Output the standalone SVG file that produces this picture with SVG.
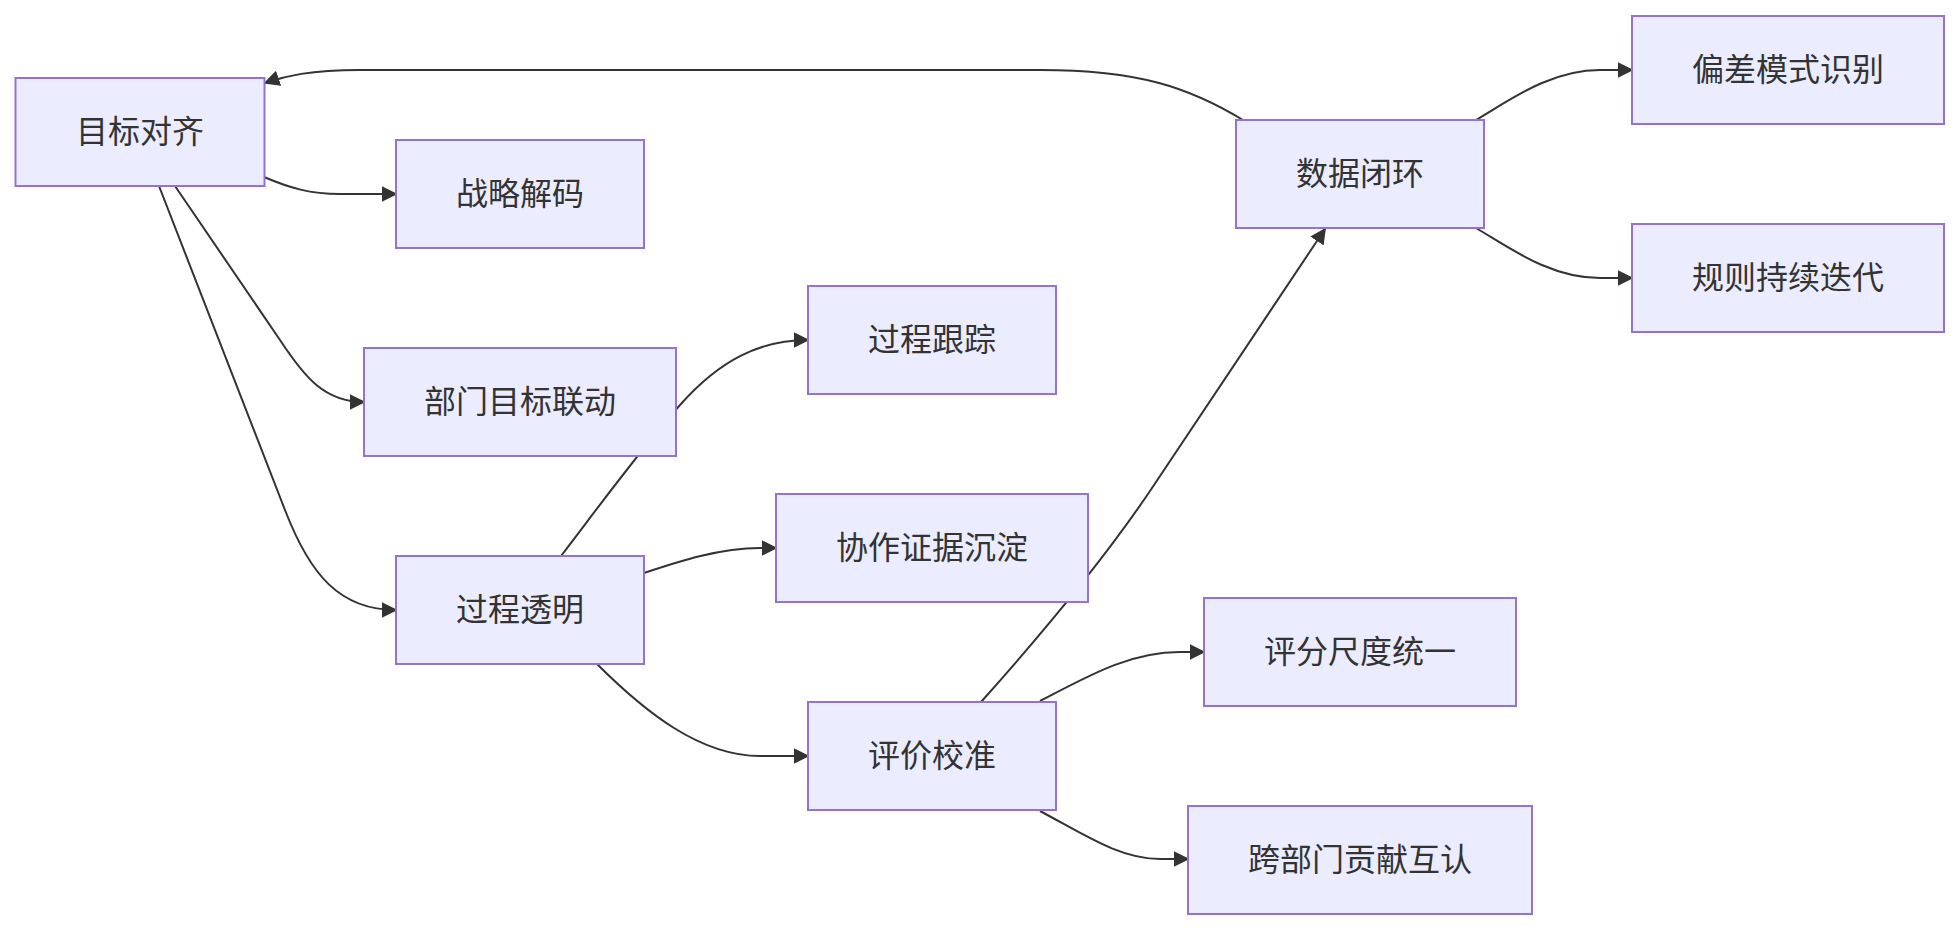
<svg xmlns="http://www.w3.org/2000/svg" width="1960" height="930" viewBox="0 0 1960 930">
<style>
.node rect{fill:#ECECFF;stroke:#9370DB;stroke-width:2}
.node text{font-family:"Noto Sans CJK SC","Noto Sans",sans-serif;font-size:32px;fill:#333333;text-anchor:middle}
.edge{fill:none;stroke:#333333;stroke-width:2}
</style>
<defs>
<marker id="arrow" viewBox="0 0 10 10" refX="9" refY="5" markerUnits="userSpaceOnUse" markerWidth="16" markerHeight="16" orient="auto">
<path d="M0,0 L10,5 L0,10 z" fill="#333333"/>
</marker>
</defs>
<rect width="1960" height="930" fill="#ffffff"/>
<g id="connectors">
<path class="edge" marker-end="url(#arrow)" d="M264,177 C290,188 310,194 340,194 L396,194"/>
<path class="edge" marker-end="url(#arrow)" d="M175,186 L280,340 C305,378 325,402 364,402"/>
<path class="edge" marker-end="url(#arrow)" d="M159,186 L285,510 C310,575 340,610 396,610"/>
<path class="edge" marker-end="url(#arrow)" d="M561,556 C600,505 640,450 680,405 C720,360 760,340 808,340"/>
<path class="edge" marker-end="url(#arrow)" d="M644,573 C680,561 720,548 760,548 L776,548"/>
<path class="edge" marker-end="url(#arrow)" d="M597,664 C645,712 700,756 760,756 L808,756"/>
<path class="edge" marker-end="url(#arrow)" d="M1040,701 C1090,675 1130,652 1180,652 L1204,652"/>
<path class="edge" marker-end="url(#arrow)" d="M1040,811 C1085,835 1120,859 1160,859 L1188,859"/>
<path class="edge" marker-end="url(#arrow)" d="M981,702 C1040,636 1100,565 1150,491 L1325,229"/>
<path class="edge" marker-end="url(#arrow)" d="M1476,120 C1510,100 1550,70 1600,70 L1632,70"/>
<path class="edge" marker-end="url(#arrow)" d="M1476,228 C1510,248 1550,278 1600,278 L1632,278"/>
<path class="edge" marker-end="url(#arrow)" d="M1243,120 C1190,88 1140,70 1040,70 L360,70 C310,70 285,76 265,83"/>
</g>
<g id="n1" class="node"><rect x="15.5" y="78" width="249" height="108"/><text x="140" y="143">目标对齐</text></g>
<g id="n2" class="node"><rect x="396" y="140" width="248" height="108"/><text x="520" y="205">战略解码</text></g>
<g id="n3" class="node"><rect x="364" y="348" width="312" height="108"/><text x="520" y="413">部门目标联动</text></g>
<g id="n4" class="node"><rect x="808" y="286" width="248" height="108"/><text x="932" y="351">过程跟踪</text></g>
<g id="n5" class="node"><rect x="396" y="556" width="248" height="108"/><text x="520" y="621">过程透明</text></g>
<g id="n6" class="node"><rect x="776" y="494" width="312" height="108"/><text x="932" y="559">协作证据沉淀</text></g>
<g id="n7" class="node"><rect x="808" y="702" width="248" height="108"/><text x="932" y="767">评价校准</text></g>
<g id="n8" class="node"><rect x="1236" y="120" width="248" height="108"/><text x="1360" y="185">数据闭环</text></g>
<g id="n9" class="node"><rect x="1632" y="16" width="312" height="108"/><text x="1788" y="81">偏差模式识别</text></g>
<g id="n10" class="node"><rect x="1632" y="224" width="312" height="108"/><text x="1788" y="289">规则持续迭代</text></g>
<g id="n11" class="node"><rect x="1204" y="598" width="312" height="108"/><text x="1360" y="663">评分尺度统一</text></g>
<g id="n12" class="node"><rect x="1188" y="806" width="344" height="108"/><text x="1360" y="871">跨部门贡献互认</text></g>
</svg>
